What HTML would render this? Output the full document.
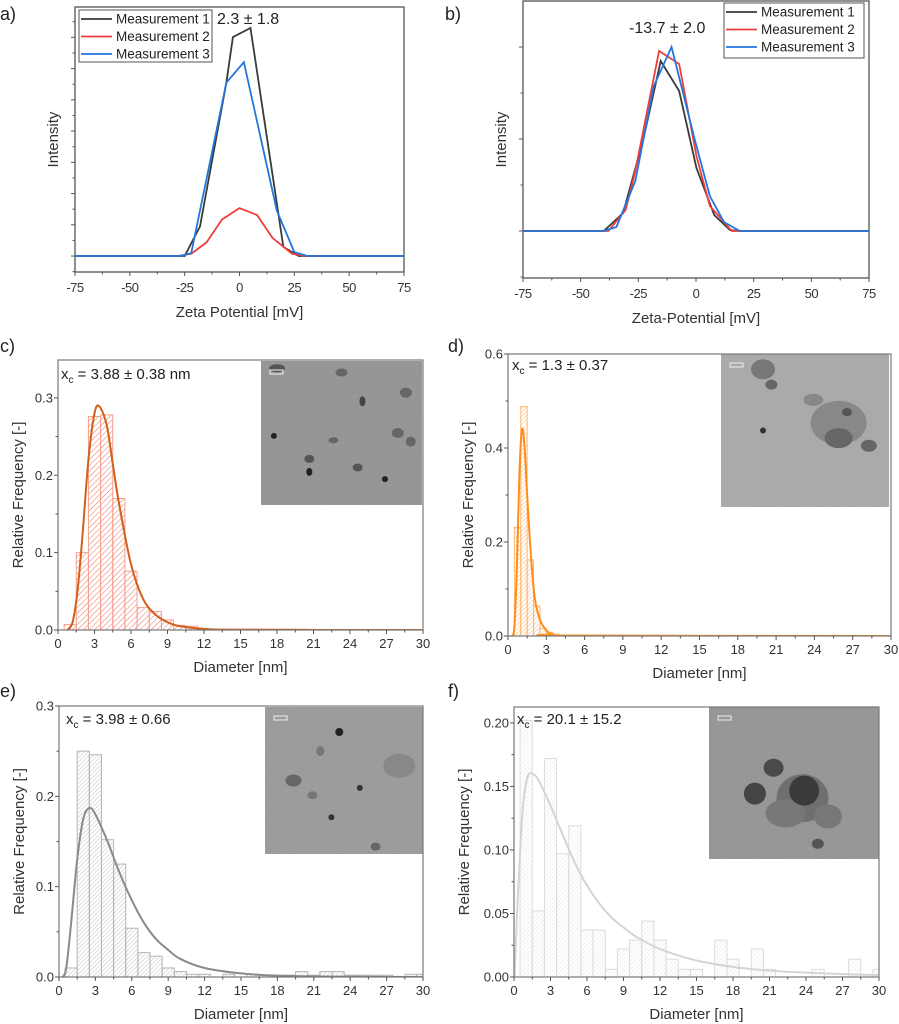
<!DOCTYPE html>
<html><head><meta charset="utf-8"><style>
html,body{margin:0;padding:0;background:#fff;}
svg{display:block;font-family:"Liberation Sans",Arial,sans-serif;}
</style></head><body>
<svg id="fig" width="899" height="1024" viewBox="0 0 899 1024">
<defs>
<pattern id="hc" width="4" height="4" patternUnits="userSpaceOnUse" patternTransform="rotate(45)"><line x1="0" y1="0" x2="0" y2="4" stroke="#f07060" stroke-width="1"/></pattern>
<pattern id="hd" width="3" height="3" patternUnits="userSpaceOnUse" patternTransform="rotate(45)"><line x1="0" y1="0" x2="0" y2="3" stroke="#ffb060" stroke-width="0.9"/></pattern>
<pattern id="he" width="3" height="3" patternUnits="userSpaceOnUse" patternTransform="rotate(45)"><line x1="0" y1="0" x2="0" y2="3" stroke="#b0b0b0" stroke-width="0.8"/></pattern>
<pattern id="hf" width="3" height="3" patternUnits="userSpaceOnUse" patternTransform="rotate(45)"><line x1="0" y1="0" x2="0" y2="3" stroke="#dcdcdc" stroke-width="0.8"/></pattern>
<filter id="grain" x="0" y="0" width="100%" height="100%"><feTurbulence type="fractalNoise" baseFrequency="0.9" numOctaves="2" result="n"/><feColorMatrix type="matrix" values="0 0 0 0 0.5  0 0 0 0 0.5  0 0 0 0 0.5  0 0 0 0.35 0"/><feComposite in2="SourceGraphic" operator="in"/></filter>
</defs>
</svg>
<script>
// ---- Panel a data ----
const aX1=[-75,-25,-18,-6,-3,5,20,27,75];
const aY1=[0,0,13,76,96,100,4,0,0];
const aX2=[-75,-28,-22,-15,-8,0,8,15,24,30,75];
const aY2=[0,0,1,6,16,21,18,8,1,0,0];
const aX3=[-75,-27,-22,-6,2,17,25,31,75];
const aY3=[0,0,1.3,76,85,20,1.7,0,0];
// ---- Panel b data ----
const bX1=[-75,-40,-31.6,-22.9,-15.3,-7.3,0.2,7.9,14.7,19,75];
const bY1=[0,0,18,91,170,140,63,16,1,0,0];
const bX2=[-75,-38,-30.5,-26.5,-16,-7.3,0.2,6,15.5,75];
const bY2=[0,0,21,58,180,167,75,25,0,0];
const bX3=[-75,-40,-34.5,-26.3,-18.3,-10.6,-0.5,6,12.1,19,75];
const bY3=[0,0,4,50,145,184,91,35,9,0,0];
const zetaTicks=[-75,-50,-25,0,25,50,75];
const legendNames=['Measurement 1','Measurement 2','Measurement 3'];
// ---- Panel c data ----
const cBins=[1,2,3,4,5,6,7,8,9,10,11,12,13,14,15,16,17,18,19,20];
const cFreq=[0.007,0.100,0.276,0.278,0.170,0.076,0.029,0.024,0.013,0.006,0.005,0.001,0.001,0.001,0.001,0.001,0.001,0.001,0.001,0.001];
const cFitX=[0.8,1.2,1.6,2,2.5,3,3.4,4,4.5,5,6,7,8,9,10,12,15,30];
const cFitY=[0,0.01,0.05,0.12,0.22,0.28,0.289,0.265,0.215,0.165,0.085,0.04,0.02,0.01,0.005,0.0015,0.0003,0];
// ---- Panel d data ----
const dBins=[0.75,1.25,1.75,2.25,2.75,3.25,3.75,4.25,4.75,5.25];
const dFreq=[0.231,0.488,0.162,0.064,0.016,0.008,0.004,0.002,0.002,0.002];
const dFitX=[0.3,0.5,0.7,0.9,1.1,1.3,1.5,1.8,2.1,2.5,3,3.5,4.5,30];
const dFitY=[0,0.02,0.15,0.35,0.44,0.40,0.30,0.17,0.08,0.035,0.012,0.004,0.001,0];
// ---- Panel e data ----
const eBins=[1,2,3,4,5,6,7,8,9,10,11,12,13,14,15,16,17,18,19,20,21,22,23,24,25,26,27,28,29,30];
const eFreq=[0.010,0.250,0.246,0.152,0.125,0.054,0.027,0.023,0.010,0.006,0.003,0.003,0,0.003,0,0.003,0.002,0.002,0.002,0.006,0.002,0.006,0.006,0.002,0.002,0.002,0.002,0,0.003,0.003];
const eFitX=[0.3,0.6,1,1.5,2,2.5,3,4,5,6,7,8,9,10,12,15,18,22,30];
const eFitY=[0,0.01,0.06,0.13,0.175,0.187,0.18,0.15,0.115,0.085,0.06,0.042,0.03,0.02,0.01,0.004,0.0015,0.0005,0];
// ---- Panel f data ----
const fBins=[1,2,3,4,5,6,7,8,9,10,11,12,13,14,15,16,17,18,19,20,21,22,23,24,25,26,27,28,29,30];
const fFreq=[0.202,0.052,0.172,0.097,0.119,0.037,0.037,0.006,0.022,0.029,0.044,0.029,0.014,0.006,0.006,0,0.029,0.014,0,0.022,0.006,0,0,0,0.006,0,0,0.014,0,0.006];
const fFitX=[0.05,0.3,0.7,1.1,1.5,2,3,4,5,6,7,8,9,10,12,15,18,21,25,30];
const fFitY=[0,0.06,0.13,0.157,0.16,0.155,0.135,0.112,0.09,0.072,0.058,0.047,0.039,0.032,0.022,0.013,0.008,0.005,0.003,0.0015];

const NS='http://www.w3.org/2000/svg';
const svg=document.getElementById('fig');
const defs=svg.querySelector('defs');
function mk(tag,attrs,parent){const e=document.createElementNS(NS,tag);for(const k in attrs)e.setAttribute(k,attrs[k]);(parent||svg).appendChild(e);return e;}
function txt(s,attrs,parent){const e=mk('text',attrs,parent);e.textContent=s;return e;}
function scale(d0,d1,r0,r1){return v=>r0+(v-d0)/(d1-d0)*(r1-r0);}
function smooth(pts){let d='M'+pts[0][0]+','+pts[0][1];for(let i=0;i<pts.length-1;i++){const p0=pts[i-1]||pts[i],p1=pts[i],p2=pts[i+1],p3=pts[i+2]||p2;const c1=[p1[0]+(p2[0]-p0[0])/6,p1[1]+(p2[1]-p0[1])/6],c2=[p2[0]-(p3[0]-p1[0])/6,p2[1]-(p3[1]-p1[1])/6];d+=' C'+c1[0]+','+c1[1]+' '+c2[0]+','+c2[1]+' '+p2[0]+','+p2[1];}return d;}

function panelLabel(s,x,y){const t=txt(s,{x:x,y:y,'font-size':18,fill:'#222'});

}

// ---------- Zeta panels ----------
function zetaPanel(id,box,ydom,series,yMajor,yMinor,title,ann,leg){
  const g=mk('g',{});
  
  
  const X=scale(-75,75,box.x0,box.x1),Y=scale(ydom[0],ydom[1],box.y1,box.y0);
  const fr=mk('rect',{x:box.x0,y:box.y0,width:box.x1-box.x0,height:box.y1-box.y0,fill:'none',stroke:'#555','stroke-width':1.3},g);
  
  
  zetaTicks.forEach(v=>{const l=mk('line',{x1:X(v),x2:X(v),y1:box.y1,y2:box.y1+4,stroke:'#555'},g);
    
    
    const t=txt(String(v),{x:X(v),y:box.y1+20,'font-size':13,'text-anchor':'middle',fill:'#333','letter-spacing':'-0.5'},g);
    
    });
  for(let v=-62.5;v<75;v+=25){const l=mk('line',{x1:X(v),x2:X(v),y1:box.y1,y2:box.y1+2.5,stroke:'#555'},g);
    
    }
  yMajor.forEach(v=>{const l=mk('line',{x1:box.x0-4,x2:box.x0,y1:Y(v),y2:Y(v),stroke:'#555'},g);
    
    });
  yMinor.forEach(v=>{const l=mk('line',{x1:box.x0-2.5,x2:box.x0,y1:Y(v),y2:Y(v),stroke:'#555'},g);
    
    });
  const xt=txt(title,{x:(box.x0+box.x1)/2,y:box.y1+45,'font-size':15,'text-anchor':'middle',fill:'#333'},g);
  
  
  const yt=txt('Intensity',{x:0,y:0,'font-size':15,'text-anchor':'middle',fill:'#333',transform:'translate('+(box.x0-17)+','+((box.y0+box.y1)/2)+') rotate(-90)'},g);
  
  
  const cols=['#3a3a3a','#f03c3c','#2277dd'];
  series.forEach((s,i)=>{const p=s[0].map((x,j)=>X(x)+','+Y(s[1][j])).join(' ');
    const pl=mk('polyline',{points:p,fill:'none',stroke:cols[i],'stroke-width':1.8,'stroke-linejoin':'miter'},g);
    
    });
  const lg=mk('g',{},g);
  
  
  mk('rect',{x:leg.x,y:leg.y,width:leg.w,height:leg.h,fill:'#fff',stroke:'#555','stroke-width':1},lg);
  legendNames.forEach((n,i)=>{const yy=leg.y+9+i*17.5;
    const ln=mk('line',{x1:leg.x+2,x2:leg.x+33,y1:yy,y2:yy,stroke:cols[i],'stroke-width':1.8},lg);
    
    
    const t=txt(n,{x:leg.x+37,y:yy+4.5,'font-size':13.5,fill:'#222'},lg);
    
    });
  const at=txt(ann.s,{x:ann.x,y:ann.y,'font-size':16,fill:'#222'},g);
  
  
}
const aMaj=[0,13.7,27.4,41.1,54.8,68.5,82.2,95.9],aMin=[6.85,20.55,34.25,47.95,61.65,75.35,89.05,102.75,-6.85];
zetaPanel('a',{x0:75,x1:404,y0:7,y1:272},[-7,109.2],[[aX1,aY1],[aX2,aY2],[aX3,aY3]],aMaj,aMin,'Zeta Potential [mV]',{s:'2.3 ± 1.8',x:217,y:24},{x:79,y:10,w:133,h:52});
zetaPanel('b',{x0:523,x1:869,y0:1,y1:278},[-47,230],[[bX1,bY1],[bX2,bY2],[bX3,bY3]],[0,92,184],[-46,46,138],'Zeta-Potential [mV]',{s:'-13.7 ± 2.0',x:629,y:33},{x:724,y:3,w:140,h:55});
panelLabel('a)',0,20);
panelLabel('b)',445,20);

// ---------- Histogram panels ----------
function histPanel(id,box,ymax,bins,freq,bw,fitX,fitY,yMajor,yLabels,yMinor,pat,barStroke,fitCol,ann,inset,blobs,ytOff){
  const g=mk('g',{});
  
  
  const cp=mk('clipPath',{id:'clip-'+id},defs);
  mk('rect',{x:box.x0,y:box.y0-2,width:box.x1-box.x0,height:box.y1-box.y0+2},cp);
  const X=scale(0,30,box.x0,box.x1),Y=scale(0,ymax,box.y1,box.y0);
  const bg=mk('g',{'clip-path':'url(#clip-'+id+')'},g);
  
  
  bins.forEach((c,i)=>{if(freq[i]<=0)return;const r=mk('rect',{x:X(c-bw/2),y:Y(freq[i]),width:X(c+bw/2)-X(c-bw/2),height:box.y1-Y(freq[i]),fill:'url(#'+pat+')',stroke:barStroke,'stroke-width':1},bg);
    
    });
  const pts=fitX.map((x,j)=>[X(x),Y(fitY[j])]);
  const fp=mk('path',{d:smooth(pts),fill:'none',stroke:fitCol,'stroke-width':2,'clip-path':'url(#clip-'+id+')'},g);
  
  
  const ins=mk('g',{},g);
  
  
  mk('rect',{x:inset.x,y:inset.y,width:inset.w,height:inset.h,fill:inset.c},ins);
  mk('rect',{x:inset.x,y:inset.y,width:inset.w,height:inset.h,fill:inset.c,filter:'url(#grain)'},ins);
  blobs.forEach(b=>{mk('ellipse',{cx:inset.x+b[0]*inset.w,cy:inset.y+b[1]*inset.h,rx:b[2],ry:b[3],fill:b[4]},ins);});
  const sb=mk('rect',{x:inset.x+9,y:inset.y+9,width:13,height:4,fill:'none',stroke:'#eee','stroke-width':1},ins);
  
  
  const fr=mk('rect',{x:box.x0,y:box.y0,width:box.x1-box.x0,height:box.y1-box.y0,fill:'none',stroke:'#777','stroke-width':1.2},g);
  
  
  for(let v=0;v<=30;v+=3){const l=mk('line',{x1:X(v),x2:X(v),y1:box.y1,y2:box.y1+4,stroke:'#555'},g);
    
    
    const t=txt(String(v),{x:X(v),y:box.y1+18,'font-size':13,'text-anchor':'middle',fill:'#333'},g);
    
    }
  for(let v=1.5;v<30;v+=3){const l=mk('line',{x1:X(v),x2:X(v),y1:box.y1,y2:box.y1+2.5,stroke:'#555'},g);
    
    }
  yMajor.forEach((v,i)=>{const l=mk('line',{x1:box.x0-4,x2:box.x0,y1:Y(v),y2:Y(v),stroke:'#555'},g);
    
    
    const t=txt(yLabels[i],{x:box.x0-5,y:Y(v)+4.5,'font-size':13,'text-anchor':'end',fill:'#333'},g);
    
    });
  yMinor.forEach(v=>{const l=mk('line',{x1:box.x0-2.5,x2:box.x0,y1:Y(v),y2:Y(v),stroke:'#555'},g);
    
    });
  const xt=txt('Diameter [nm]',{x:(box.x0+box.x1)/2,y:box.y1+42,'font-size':15,'text-anchor':'middle',fill:'#333'},g);
  
  
  const yt=txt('Relative Frequency [-]',{x:0,y:0,'font-size':15,'text-anchor':'middle',fill:'#333',transform:'translate('+(box.x0-ytOff)+','+((box.y0+box.y1)/2)+') rotate(-90)'},g);
  
  
  const at=txt('',{x:ann.x,y:ann.y,'font-size':15,fill:'#222'},g);
  
  
  const t1=mk('tspan',{},at);t1.textContent='x';
  const t2=mk('tspan',{dy:4,'font-size':10},at);t2.textContent='c';
  const t3=mk('tspan',{dy:-4},at);t3.textContent=' = '+ann.s;
}
histPanel('c',{x0:58,x1:423,y0:360,y1:630},0.349,cBins,cFreq,1,cFitX,cFitY,[0,0.1,0.2,0.3],['0.0','0.1','0.2','0.3'],[0.05,0.15,0.25],'hc','#f4a090','#d35f1a',{x:61,y:379,s:'3.88 ± 0.38 nm'},{x:261,y:361,w:161,h:144,c:'#8e8e8e'},
 [[0.1,0.05,8,4,'#555'],[0.5,0.08,6,4,'#666'],[0.63,0.28,3,5,'#444'],[0.08,0.52,3,3,'#222'],[0.3,0.68,5,4,'#555'],[0.3,0.77,3,4,'#222'],[0.6,0.74,5,4,'#555'],[0.77,0.82,3,3,'#222'],[0.85,0.5,6,5,'#666'],[0.93,0.56,5,5,'#666'],[0.9,0.22,6,5,'#666'],[0.45,0.55,5,3,'#666']],35);
histPanel('d',{x0:508,x1:891,y0:354,y1:636},0.6,dBins,dFreq,0.5,dFitX,dFitY,[0,0.2,0.4,0.6],['0.0','0.2','0.4','0.6'],[0.1,0.3,0.5],'hd','#ffb870','#ff8c1a',{x:512,y:370,s:'1.3 ± 0.37'},{x:721,y:354,w:168,h:153,c:'#a6a6a6'},
 [[0.25,0.1,12,10,'#777'],[0.3,0.2,6,5,'#666'],[0.55,0.3,10,6,'#888'],[0.7,0.45,28,22,'#888'],[0.7,0.55,14,10,'#666'],[0.88,0.6,8,6,'#666'],[0.75,0.38,5,4,'#555'],[0.25,0.5,3,3,'#333']],35);
histPanel('e',{x0:59,x1:423,y0:706,y1:977},0.3,eBins,eFreq,1,eFitX,eFitY,[0,0.1,0.2,0.3],['0.0','0.1','0.2','0.3'],[0.05,0.15,0.25],'he','#b5b5b5','#8a8a8a',{x:66,y:724,s:'3.98 ± 0.66'},{x:265,y:707,w:158,h:147,c:'#959595'},
 [[0.47,0.17,4,4,'#222'],[0.18,0.5,8,6,'#666'],[0.3,0.6,5,4,'#777'],[0.85,0.4,16,12,'#888'],[0.42,0.75,3,3,'#333'],[0.6,0.55,3,3,'#333'],[0.7,0.95,5,4,'#666'],[0.35,0.3,4,5,'#777']],35);
histPanel('f',{x0:514,x1:879,y0:707,y1:977},0.2125,fBins,fFreq,1,fFitX,fFitY,[0,0.05,0.1,0.15,0.2],['0.00','0.05','0.10','0.15','0.20'],[0.025,0.075,0.125,0.175],'hf','#dcdcdc','#d4d4d4',{x:517,y:724,s:'20.1 ± 15.2'},{x:709,y:707,w:170,h:152,c:'#8f8f8f'},
 [[0.55,0.6,26,24,'#6f6f6f'],[0.45,0.7,20,14,'#777'],[0.7,0.72,14,12,'#777'],[0.56,0.55,15,15,'#3a3a3a'],[0.38,0.4,10,9,'#4a4a4a'],[0.27,0.57,11,11,'#454545'],[0.64,0.9,6,5,'#555']],45);
panelLabel('c)',0,352);
panelLabel('d)',448,352);
panelLabel('e)',0,697);
panelLabel('f)',448,697);
</script>
</body></html>
